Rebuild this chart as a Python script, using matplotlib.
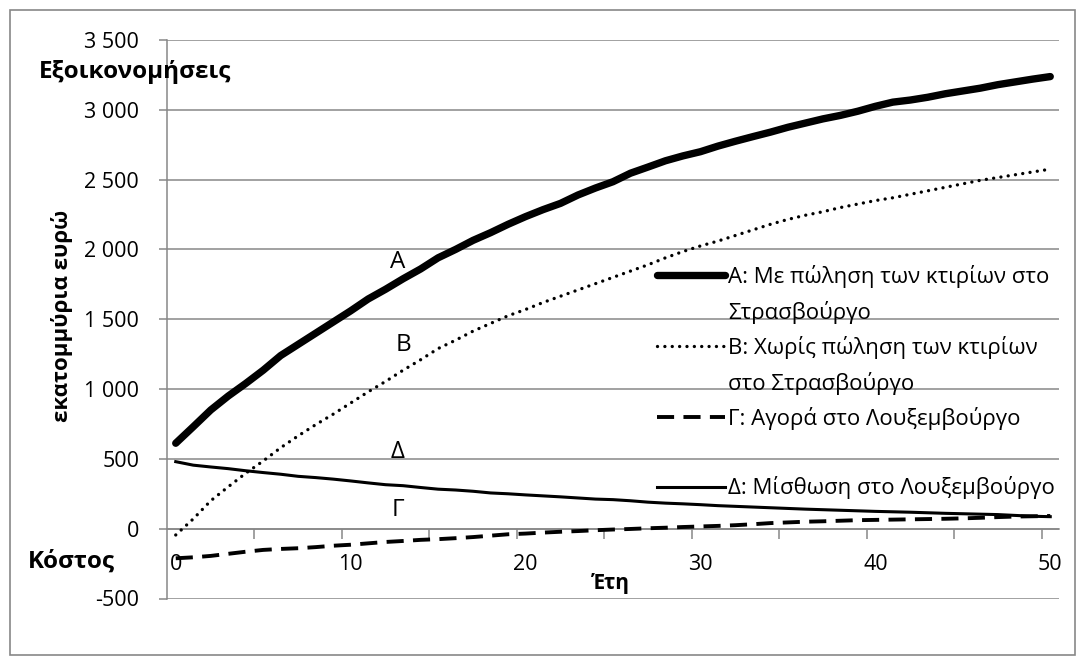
import matplotlib.pyplot as plt
from matplotlib.lines import Line2D
from matplotlib.patches import Rectangle
from matplotlib.ticker import FuncFormatter

plt.rcParams['font.family'] = ['Open Sans', 'DejaVu Sans']

years = list(range(51))

# Α: sale of Strasbourg buildings
sav_a = [612, 730, 850, 950, 1040, 1135, 1240, 1320, 1400, 1480, 1560,
         1645, 1715, 1790, 1860, 1940, 2000, 2065, 2120, 2180, 2235,
         2285, 2330, 2390, 2440, 2485, 2546, 2590, 2635, 2670, 2700,
         2740, 2775, 2808, 2840, 2875, 2905, 2935, 2960, 2990, 3025,
         3055, 3070, 3090, 3115, 3135, 3155, 3180, 3200, 3220, 3238]
# Β: no sale
sav_b = [-45, 70, 200, 300, 397, 485, 580, 665, 745, 820, 900,
         980, 1055, 1135, 1210, 1290, 1350, 1415, 1470, 1525, 1570,
         1620, 1665, 1710, 1755, 1800, 1845, 1890, 1940, 1985, 2025,
         2060, 2100, 2140, 2180, 2215, 2245, 2270, 2300, 2325, 2350,
         2370, 2395, 2420, 2445, 2470, 2495, 2515, 2535, 2555, 2575]
# Γ: purchase in Luxembourg
cost_g = [-212, -205, -195, -180, -165, -152, -145, -140, -132, -122, -115,
          -105, -95, -88, -80, -75, -68, -60, -50, -40, -35,
          -28, -22, -17, -11, -6, -2, 3, 7, 12, 16,
          20, 25, 32, 40, 45, 50, 53, 57, 61, 63,
          65, 67, 69, 71, 74, 78, 83, 87, 89, 91]
# Δ: lease in Luxembourg
cost_d = [480, 455, 442, 430, 415, 402, 390, 375, 366, 355, 342,
          328, 315, 308, 295, 283, 277, 268, 256, 250, 242,
          235, 228, 220, 212, 208, 200, 190, 183, 178, 172,
          165, 160, 155, 150, 145, 140, 136, 132, 128, 124,
          121, 118, 114, 110, 107, 104, 101, 95, 89, 86]

labels = ["Α: Με πώληση των κτιρίων στο", "Στρασβούργο",
          "Β: Χωρίς πώληση των κτιρίων", "στο Στρασβούργο",
          "Γ: Αγορά στο Λουξεμβούργο", " ",
          "Δ: Μίσθωση στο Λουξεμβούργο"]

W, H = 1083, 663
fig = plt.figure(figsize=(W / 100, H / 100), dpi=100)
ax = fig.add_axes([167 / W, 1 - 598.5 / H, (1059 - 167) / W, (598.5 - 40) / H])

grey = '#878787'
fig.patches.append(Rectangle((10 / W, 1 - 655 / H), 1065 / W, 645 / H,
                             transform=fig.transFigure, fill=False,
                             edgecolor=grey, lw=1.2))

la, = ax.plot(years, sav_a, color='black', lw=5.3, solid_capstyle='round',
              solid_joinstyle='round', zorder=5)
lb, = ax.plot(years, sav_b, color='black', lw=2.4, linestyle=(0, (0.01, 2.2)),
              dash_capstyle='round', zorder=5)
lg, = ax.plot(years, cost_g, color='black', lw=2.8, linestyle=(0, (4.4, 2.4)),
              zorder=5)
ld, = ax.plot(years, cost_d, color='black', lw=2.2, zorder=5)

ax.set_xlim(-0.5, 50.5)
ax.set_ylim(-500, 3500)
ax.set_yticks(range(-500, 3501, 500))
ax.yaxis.set_major_formatter(FuncFormatter(lambda v, p: f"{v:,.0f}".replace(",", " ")))
ax.grid(axis='y', color=grey, lw=1.1)
ax.set_axisbelow(True)

for s in ['top', 'right']:
    ax.spines[s].set_visible(False)
ax.spines['left'].set_color(grey)
ax.spines['left'].set_linewidth(1.1)
ax.spines['bottom'].set_position(('data', 0))
ax.spines['bottom'].set_color(grey)
ax.spines['bottom'].set_linewidth(1.1)

ax.set_xticks(range(0, 51, 10))
ax.set_xticks([4.5 + 5 * i for i in range(10)], minor=True)
ax.tick_params(axis='x', which='major', length=0, pad=18, labelsize=15.5)
ax.tick_params(axis='x', which='minor', length=7, width=1.1, color=grey, direction='out')
ax.tick_params(axis='y', length=6, width=1.1, color=grey, pad=14, labelsize=15.5)

# curve letters
ax.text(12.7, 1910, "Α", fontsize=17.5, ha='center', va='center')
ax.text(13.0, 1315, "Β", fontsize=17.5, ha='center', va='center')
ax.text(12.7, 548, "Δ", fontsize=17.5, ha='center', va='center')
ax.text(12.7, 134, "Γ", fontsize=17.5, ha='center', va='center')

blank = Line2D([], [], color='none')
ax.legend([la, blank, lb, blank, lg, blank, ld], labels,
          loc='upper left', bbox_to_anchor=(657 / W, 1 - 265 / H),
          bbox_transform=fig.transFigure, frameon=False, fontsize=16,
          handlelength=3.06, handletextpad=0.14, labelspacing=0.565,
          borderpad=0, borderaxespad=0)

fig.text(39 / W, 1 - 72 / H, "Εξοικονομήσεις", fontsize=17.5, fontweight='bold',
         ha='left', va='center')
fig.text(28 / W, 1 - 562 / H, "Κόστος", fontsize=17.5, fontweight='bold',
         ha='left', va='center')
fig.text(611 / W, 1 - 583 / H, "Έτη", fontsize=15, fontweight='bold',
         ha='center', va='center')
fig.text(62 / W, 1 - 316 / H, "εκατομμύρια ευρώ", fontsize=16, fontweight='bold',
         ha='center', va='center', rotation=90)

fig.savefig("out.png", dpi=100)
